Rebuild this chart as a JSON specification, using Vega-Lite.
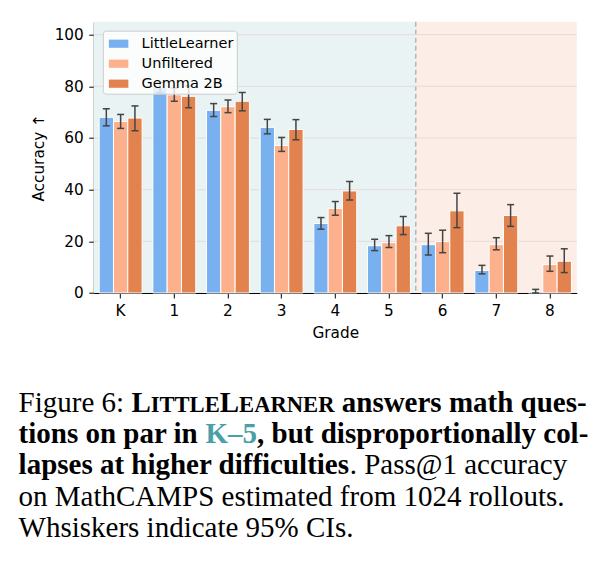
{
  "$schema": "https://vega.github.io/schema/vega-lite/v6.json",
  "padding": {"left": 17.8, "top": 20.7, "right": 10, "bottom": 10},
  "background": "white",
  "bounds": "flush",
  "spacing": 118,
  "config": {
    "view": {"stroke": null},
    "axis": {
      "labelFont": "DejaVu Sans",
      "labelFontSize": 15.3,
      "labelColor": "black",
      "titleFont": "DejaVu Sans",
      "titleFontSize": 15.3,
      "titleFontWeight": "normal",
      "titleColor": "black",
      "domainColor": "black",
      "tickColor": "black",
      "tickSize": 5,
      "grid": false
    },
    "legend": {
      "orient": "top-left",
      "offset": 8.5,
      "padding": 3,
      "fillColor": "rgba(255,255,255,0.8)",
      "strokeColor": "#cccccc",
      "cornerRadius": 3,
      "labelFont": "DejaVu Sans",
      "labelFontSize": 14.5,
      "labelColor": "black",
      "labelOffset": 13,
      "symbolOffset": 2.8,
      "symbolType": "M-1,-0.42H1V0.42H-1Z",
      "symbolSize": 380,
      "symbolStrokeWidth": 0,
      "rowPadding": 3
    }
  },
  "vconcat": [
    {
      "width": 483,
      "height": 271.3,
      "layer": [
        {
          "data": {
            "values": [
              {"zone": "K–5", "from": 0, "to": 6},
              {"zone": "6–8", "from": 6, "to": 9}
            ]
          },
          "layer": [
            {
              "mark": {"type": "rect"},
              "encoding": {
                "x": {"field": "from", "type": "quantitative", "scale": {"domain": [0, 9], "nice": false, "zero": false}, "axis": null},
                "x2": {"field": "to"},
                "fill": {"field": "zone", "type": "nominal", "scale": {"domain": ["K–5", "6–8"], "range": ["#EAF3F4", "#FCEEE6"]}, "legend": null}
              }
            },
            {
              "transform": [{"filter": "datum.zone === 'K–5'"}],
              "mark": {"type": "rule", "color": "#a8a8a8", "strokeDash": [5, 3], "strokeWidth": 1.2},
              "encoding": {
                "x": {"field": "to", "type": "quantitative"}
              }
            }
          ]
        },
        {
          "data": {
            "values": [
              {"grade": "K", "model": "LittleLearner", "acc": 68.0, "lo": 64.7, "hi": 71.3},
              {"grade": "K", "model": "Unfiltered", "acc": 66.4, "lo": 63.7, "hi": 69.1},
              {"grade": "K", "model": "Gemma 2B", "acc": 67.7, "lo": 62.8, "hi": 72.4},
              {"grade": "1", "model": "LittleLearner", "acc": 79.5, "lo": 77.5, "hi": 81.5},
              {"grade": "1", "model": "Unfiltered", "acc": 76.7, "lo": 74.2, "hi": 79.3},
              {"grade": "1", "model": "Gemma 2B", "acc": 76.1, "lo": 71.7, "hi": 80.2},
              {"grade": "2", "model": "LittleLearner", "acc": 70.7, "lo": 68.3, "hi": 73.3},
              {"grade": "2", "model": "Unfiltered", "acc": 72.1, "lo": 69.8, "hi": 74.7},
              {"grade": "2", "model": "Gemma 2B", "acc": 74.2, "lo": 70.5, "hi": 77.6},
              {"grade": "3", "model": "LittleLearner", "acc": 64.1, "lo": 61.6, "hi": 67.2},
              {"grade": "3", "model": "Unfiltered", "acc": 57.1, "lo": 54.8, "hi": 60.2},
              {"grade": "3", "model": "Gemma 2B", "acc": 63.3, "lo": 59.3, "hi": 67.1},
              {"grade": "4", "model": "LittleLearner", "acc": 26.9, "lo": 24.7, "hi": 29.2},
              {"grade": "4", "model": "Unfiltered", "acc": 32.7, "lo": 30.1, "hi": 35.4},
              {"grade": "4", "model": "Gemma 2B", "acc": 39.5, "lo": 36.0, "hi": 43.2},
              {"grade": "5", "model": "LittleLearner", "acc": 18.3, "lo": 16.4, "hi": 20.8},
              {"grade": "5", "model": "Unfiltered", "acc": 19.5, "lo": 17.6, "hi": 22.2},
              {"grade": "5", "model": "Gemma 2B", "acc": 26.0, "lo": 22.6, "hi": 29.6},
              {"grade": "6", "model": "LittleLearner", "acc": 18.7, "lo": 14.7, "hi": 23.1},
              {"grade": "6", "model": "Unfiltered", "acc": 19.9, "lo": 15.6, "hi": 24.3},
              {"grade": "6", "model": "Gemma 2B", "acc": 31.8, "lo": 25.3, "hi": 38.6},
              {"grade": "7", "model": "LittleLearner", "acc": 8.7, "lo": 7.4, "hi": 10.7},
              {"grade": "7", "model": "Unfiltered", "acc": 18.7, "lo": 16.7, "hi": 21.4},
              {"grade": "7", "model": "Gemma 2B", "acc": 30.0, "lo": 25.8, "hi": 34.2},
              {"grade": "8", "model": "LittleLearner", "acc": 0.5, "lo": 0.0, "hi": 1.4},
              {"grade": "8", "model": "Unfiltered", "acc": 11.0, "lo": 8.4, "hi": 14.3},
              {"grade": "8", "model": "Gemma 2B", "acc": 12.3, "lo": 7.9, "hi": 17.1}
            ]
          },
          "layer": [
            {
              "data": {"values": [{"v": 20}, {"v": 40}, {"v": 60}, {"v": 80}, {"v": 100}]},
              "mark": {"type": "rule", "color": "#E4DCDA", "strokeWidth": 1},
              "encoding": {
                "y": {"field": "v", "type": "quantitative", "scale": {"domain": [0, 105], "nice": false}, "title": "Accuracy ↑", "axis": {"values": [0, 20, 40, 60, 80, 100], "labelPadding": 5.5, "titlePadding": 8}}
              }
            },
            {
              "mark": {"type": "bar", "stroke": "white", "strokeWidth": 1},
              "encoding": {
                "x": {"field": "grade", "type": "nominal", "sort": ["K", "1", "2", "3", "4", "5", "6", "7", "8"], "scale": {"paddingInner": 0.2, "paddingOuter": 0.1}, "title": "Grade", "axis": {"orient": "bottom", "labelAngle": 0, "labelPadding": 6, "titlePadding": 6}},
                "xOffset": {"field": "model", "type": "nominal", "sort": ["LittleLearner", "Unfiltered", "Gemma 2B"]},
                "y": {"field": "acc", "type": "quantitative", "scale": {"domain": [0, 105], "nice": false}, "title": "Accuracy ↑", "axis": {"values": [0, 20, 40, 60, 80, 100], "labelPadding": 5.5, "titlePadding": 8}},
                "color": {"field": "model", "type": "nominal", "scale": {"domain": ["LittleLearner", "Unfiltered", "Gemma 2B"], "range": ["#78B0F0", "#FDB08C", "#E2834F"]}, "title": null}
              }
            },
            {
              "mark": {"type": "rule", "color": "#444444", "strokeWidth": 1.5},
              "encoding": {
                "x": {"field": "grade", "type": "nominal", "sort": ["K", "1", "2", "3", "4", "5", "6", "7", "8"]},
                "xOffset": {"field": "model", "type": "nominal", "sort": ["LittleLearner", "Unfiltered", "Gemma 2B"]},
                "y": {"field": "lo", "type": "quantitative"},
                "y2": {"field": "hi"}
              }
            },
            {
              "mark": {"type": "tick", "color": "#444444", "size": 7, "thickness": 1.5, "opacity": 1},
              "encoding": {
                "x": {"field": "grade", "type": "nominal", "sort": ["K", "1", "2", "3", "4", "5", "6", "7", "8"]},
                "xOffset": {"field": "model", "type": "nominal", "sort": ["LittleLearner", "Unfiltered", "Gemma 2B"]},
                "y": {"field": "lo", "type": "quantitative"}
              }
            },
            {
              "mark": {"type": "tick", "color": "#444444", "size": 7, "thickness": 1.5, "opacity": 1},
              "encoding": {
                "x": {"field": "grade", "type": "nominal", "sort": ["K", "1", "2", "3", "4", "5", "6", "7", "8"]},
                "xOffset": {"field": "model", "type": "nominal", "sort": ["LittleLearner", "Unfiltered", "Gemma 2B"]},
                "y": {"field": "hi", "type": "quantitative"}
              }
            }
          ]
        }
      ],
      "resolve": {"scale": {"x": "independent"}}
    },
    {
      "width": 483,
      "height": 125.2,
      "data": {
        "values": [
          {"line": 1, "part": "l1a", "text": "Figure 6:"},
          {"line": 1, "part": "l1b", "text": "L"},
          {"line": 1, "part": "l1c", "text": "ITTLE"},
          {"line": 1, "part": "l1d", "text": "L"},
          {"line": 1, "part": "l1e", "text": "EARNER"},
          {"line": 1, "part": "l1f", "text": "answers math ques-"},
          {"line": 2, "part": "l2a", "text": "tions on par in"},
          {"line": 2, "part": "l2b", "text": "K–5"},
          {"line": 2, "part": "l2c", "text": ", but disproportionally col-"},
          {"line": 3, "part": "l3a", "text": "lapses at higher difficulties"},
          {"line": 3, "part": "l3b", "text": ". Pass@1 accuracy"},
          {"line": 4, "part": "l4", "text": "on MathCAMPS estimated from 1024 rollouts."},
          {"line": 5, "part": "l5", "text": "Whsiskers indicate 95% CIs."}
        ]
      },
      "encoding": {
        "x": {"datum": 0, "type": "quantitative", "scale": {"domain": [0, 1]}, "axis": null},
        "y": {"field": "line", "type": "ordinal", "scale": {"type": "point", "padding": 0}, "axis": null},
        "text": {"field": "text"}
      },
      "layer": [
        {
          "transform": [{"filter": {"field": "part", "oneOf": ["l1a", "l4", "l5"]}}],
          "mark": {"type": "text", "align": "left", "baseline": "alphabetic", "font": "Liberation Serif", "fontSize": 29, "color": "black", "dx": -75.2}
        },
        {
          "transform": [{"filter": {"field": "part", "oneOf": ["l2a", "l3a"]}}],
          "mark": {"type": "text", "align": "left", "baseline": "alphabetic", "font": "Liberation Serif", "fontSize": 29, "fontWeight": "bold", "color": "black", "dx": -75.2}
        },
        {
          "transform": [{"filter": {"field": "part", "equal": "l1b"}}],
          "mark": {"type": "text", "align": "left", "baseline": "alphabetic", "font": "Liberation Serif", "fontSize": 29, "fontWeight": "bold", "color": "black", "dx": 37.6}
        },
        {
          "transform": [{"filter": {"field": "part", "equal": "l1c"}}],
          "mark": {"type": "text", "align": "left", "baseline": "alphabetic", "font": "Liberation Serif", "fontSize": 22.6, "fontWeight": "bold", "color": "black", "dx": 56.9}
        },
        {
          "transform": [{"filter": {"field": "part", "equal": "l1d"}}],
          "mark": {"type": "text", "align": "left", "baseline": "alphabetic", "font": "Liberation Serif", "fontSize": 29, "fontWeight": "bold", "color": "black", "dx": 126.0}
        },
        {
          "transform": [{"filter": {"field": "part", "equal": "l1e"}}],
          "mark": {"type": "text", "align": "left", "baseline": "alphabetic", "font": "Liberation Serif", "fontSize": 22.6, "fontWeight": "bold", "color": "black", "dx": 145.3}
        },
        {
          "transform": [{"filter": {"field": "part", "equal": "l1f"}}],
          "mark": {"type": "text", "align": "left", "baseline": "alphabetic", "font": "Liberation Serif", "fontSize": 29, "fontWeight": "bold", "color": "black", "dx": 248.0}
        },
        {
          "transform": [{"filter": {"field": "part", "equal": "l2b"}}],
          "mark": {"type": "text", "align": "left", "baseline": "alphabetic", "font": "Liberation Serif", "fontSize": 29, "fontWeight": "bold", "color": "#4A9FA8", "dx": 111.7}
        },
        {
          "transform": [{"filter": {"field": "part", "equal": "l2c"}}],
          "mark": {"type": "text", "align": "left", "baseline": "alphabetic", "font": "Liberation Serif", "fontSize": 29, "fontWeight": "bold", "color": "black", "dx": 163.3}
        },
        {
          "transform": [{"filter": {"field": "part", "equal": "l3b"}}],
          "mark": {"type": "text", "align": "left", "baseline": "alphabetic", "font": "Liberation Serif", "fontSize": 29, "color": "black", "dx": 255.9}
        }
      ]
    }
  ]
}
